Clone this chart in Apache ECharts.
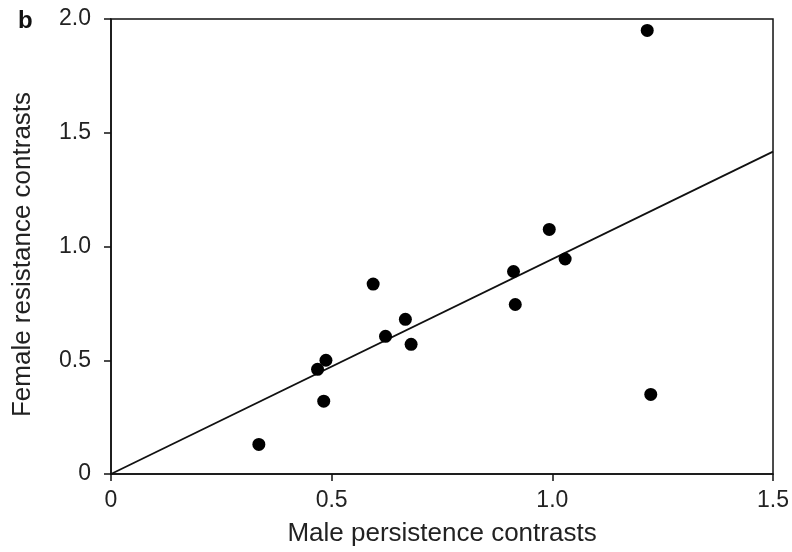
<!DOCTYPE html>
<html>
<head>
<meta charset="utf-8">
<script src="https://cdn.jsdelivr.net/npm/echarts@6/dist/echarts.min.js"></script>
<style>
  html, body { margin: 0; padding: 0; background: #fff; }
  #main { width: 792px; height: 552px; }
</style>
</head>
<body>
<div id="main"></div>
<script>
// male persistence (x) vs female resistance (y) contrasts
const maleX = [0.335, 0.468, 0.487, 0.482, 0.594, 0.622, 0.667, 0.680, 0.912, 0.916, 0.993, 1.029, 1.223, 1.215];
const femaleY = [0.13, 0.46, 0.50, 0.32, 0.835, 0.605, 0.68, 0.57, 0.89, 0.745, 1.075, 0.945, 0.35, 1.95];
// regression through origin
const fitX = [0, 1.5];
const fitY = [0, 1.417];
const xTicks = ["0", "0.5", "1.0", "1.5"];
const yTicks = ["0", "0.5", "1.0", "1.5", "2.0"];

const font = "Liberation Sans, Arial, Helvetica, sans-serif";
const chart = echarts.init(document.getElementById("main"));

const points = maleX.map((x, i) => [x, femaleY[i]]);
const fitLine = fitX.map((x, i) => [x, fitY[i]]);

chart.setOption({
  animation: false,
  title: {
    text: "b",
    left: 13,
    top: 4,
    textStyle: { fontFamily: font, fontSize: 24, fontWeight: "bold", color: "#111" },
  },
  grid: {
    left: 111,
    right: 18,
    top: 19,
    bottom: 77,
    show: true,
    borderColor: "#111",
    borderWidth: 1.5,
  },
  xAxis: {
    type: "value",
    min: 0,
    max: 1.5,
    interval: 0.5,
    name: "Male persistence contrasts",
    nameLocation: "middle",
    nameGap: 47,
    nameTextStyle: { fontFamily: font, fontSize: 26, color: "#222" },
    axisLine: { lineStyle: { color: "#111", width: 1.5 } },
    axisTick: { show: true, inside: false, length: 7, lineStyle: { color: "#111", width: 1.5 } },
    axisLabel: {
      fontFamily: font,
      fontSize: 23,
      color: "#222",
      margin: 15,
      formatter: (v) => xTicks[Math.round(v / 0.5)],
    },
    splitLine: { show: false },
  },
  yAxis: {
    type: "value",
    min: 0,
    max: 2,
    interval: 0.5,
    name: "Female resistance contrasts",
    nameLocation: "middle",
    nameGap: 75,
    nameTextStyle: { fontFamily: font, fontSize: 26, color: "#222", padding: [0, 16, 0, 0] },
    axisLine: { show: true, lineStyle: { color: "#111", width: 1.5 } },
    axisTick: { show: true, inside: false, length: 7, lineStyle: { color: "#111", width: 1.5 } },
    axisLabel: {
      fontFamily: font,
      fontSize: 23,
      color: "#222",
      margin: 20,
      formatter: (v) => yTicks[Math.round(v / 0.5)],
    },
    splitLine: { show: false },
  },
  series: [
    {
      type: "line",
      data: fitLine,
      symbol: "none",
      lineStyle: { color: "#111", width: 1.8 },
      z: 2,
    },
    {
      type: "scatter",
      data: points,
      symbol: "circle",
      symbolSize: 13,
      itemStyle: { color: "#000", opacity: 1 },
      z: 3,
    },
  ],
});
</script>
</body>
</html>
